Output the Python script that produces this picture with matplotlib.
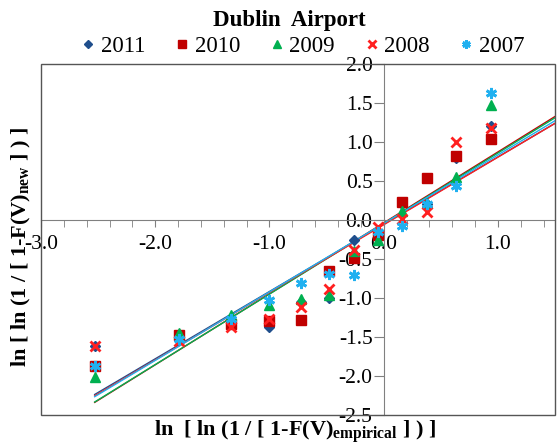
import matplotlib
matplotlib.use('Agg')
import matplotlib.pyplot as plt
from matplotlib.patches import Rectangle
from matplotlib.ticker import MultipleLocator
import numpy as np

# empirical plotting positions (x) and fitted values (y) per year
x_emp = [-2.53, -1.79, -1.34, -1.00, -0.72, -0.48, -0.26, -0.05, 0.16, 0.38, 0.63, 0.94]
y_2011 = [-1.62, -1.50, -1.33, -1.37, -1.05, -1.00, -0.25, -0.16, 0.20, 0.20, 0.80, 1.20]
y_2010 = [-1.87, -1.48, -1.33, -1.30, -1.28, -0.65, -0.49, -0.19, 0.23, 0.54, 0.82, 1.04]
y_2009 = [-2.01, -1.45, -1.22, -1.09, -1.01, -0.96, -0.40, -0.25, 0.12, 0.22, 0.55, 1.47]
y_2008 = [-1.62, -1.55, -1.37, -1.27, -1.11, -0.89, -0.38, -0.09, 0.01, 0.10, 1.00, 1.18]
y_2007 = [-1.87, -1.52, -1.27, -1.02, -0.81, -0.69, -0.70, -0.16, -0.08, 0.21, 0.43, 1.63]

years = ['2011', '2010', '2009', '2008', '2007']
series = [y_2011, y_2010, y_2009, y_2008, y_2007]
colors = ['#1F4E8C', '#C00000', '#00B050', '#FF2020', '#20B0F0']
markers = ['D', 's', '^', 'x', (6, 2, 0)]
msizes = [5, 7, 7, 7, 8]

plt.rcParams['font.family'] = ['Liberation Serif', 'DejaVu Serif']
plt.rcParams['mathtext.fontset'] = 'custom'
plt.rcParams['mathtext.rm'] = 'Liberation Serif'
plt.rcParams['mathtext.bf'] = 'Liberation Serif:bold'
plt.rcParams['axes.unicode_minus'] = False

fig = plt.figure(figsize=(5.57, 4.46), dpi=100)
ax = fig.add_axes([41 / 557, 1 - 415 / 446, 514 / 557, 351 / 446])

x_end = 1.5
for ys, c in zip(series, colors):
    # linear trend line
    k, b = np.polyfit(x_emp, ys, 1)
    xl = np.array([x_emp[0], x_end])
    ax.plot(xl, k * xl + b, color=c, lw=1, zorder=2)
for ys, c, m, ms, lab in zip(series, colors, markers, msizes, years):
    mew = 2 if m == 'x' or isinstance(m, tuple) else 1
    ax.plot(x_emp, ys, ls='none', marker=m, ms=ms, color=c, mec=c, mew=mew, label=lab, zorder=3)

ax.set_xlim(-3.0, 1.5)
ax.set_ylim(-2.5, 2.0)

# axes crossing at zero
for s in ['top', 'right']:
    ax.spines[s].set_visible(False)
ax.spines['left'].set_position(('data', 0))
ax.spines['bottom'].set_position(('data', 0))
ax.spines['left'].set_color('#808080')
ax.spines['bottom'].set_color('#808080')
ax.add_patch(Rectangle((0, 0), 1, 1, transform=ax.transAxes, fill=False,
                       ec='#555555', lw=1, clip_on=False, zorder=5))

ax.xaxis.set_major_locator(MultipleLocator(1.0))
ax.xaxis.set_minor_locator(MultipleLocator(0.2))
ax.yaxis.set_major_locator(MultipleLocator(0.5))
ax.xaxis.set_major_formatter('{x:.1f}')
ax.yaxis.set_major_formatter('{x:.1f}')
ax.tick_params(axis='x', which='both', direction='out', length=5, color='#808080', labelsize=15.5, pad=6)
ax.tick_params(axis='y', direction='out', length=7, color='#808080', labelsize=15.5, pad=1)

fig.text(0.52, 0.955, 'Dublin  Airport', ha='center', va='center', fontsize=16.5, fontweight='bold')
fig.legend(loc='center', bbox_to_anchor=(0.54, 0.895), ncol=5, frameon=False, fontsize=16.5,
           handletextpad=0.05, columnspacing=1.1, handlelength=1.0, borderaxespad=0, markerscale=0.75)

fig.text(0.53, 0.03, r'ln  [ ln (1 / [ 1-F(V)$_{\mathbf{empirical}}$ ] ) ]', ha='center', va='center',
         fontsize=16, fontweight='bold')
fig.text(0.038, 0.445, r'ln [ ln (1 / [ 1-F(V)$_{\mathbf{new}}$ ] ) ]', ha='center', va='center',
         fontsize=16, fontweight='bold', rotation=90)

fig.savefig('out.png', dpi=100)
